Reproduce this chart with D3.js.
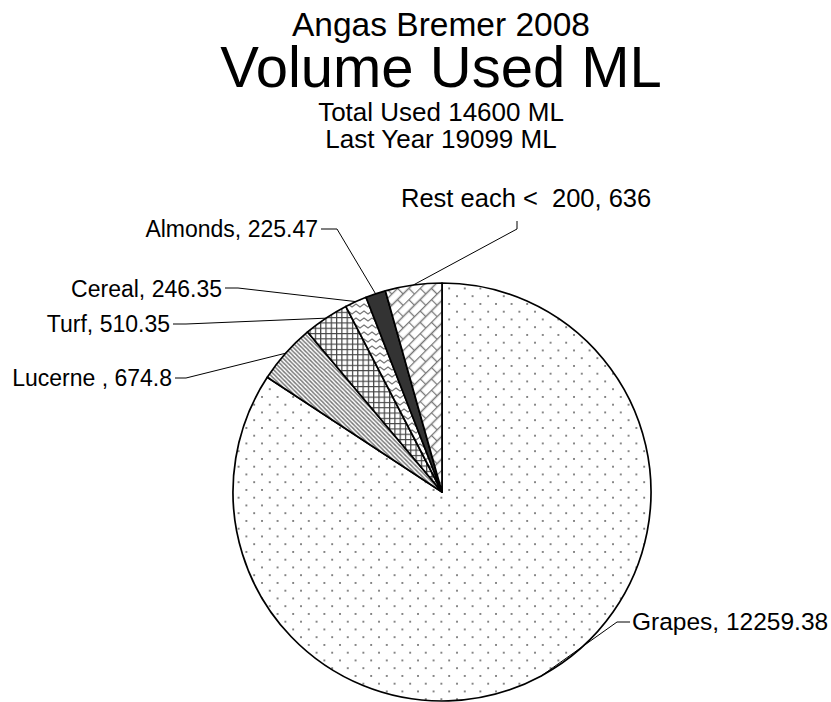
<!DOCTYPE html>
<html>
<head>
<meta charset="utf-8">
<script src="https://cdn.jsdelivr.net/npm/d3@7"></script>
<style>
  html, body { margin: 0; padding: 0; background: #fff; }
  svg text { font-family: "Liberation Sans", Arial, sans-serif; fill: #000; white-space: pre; }
</style>
</head>
<body>
<svg id="chart" width="831" height="702"></svg>
<script>
// Crop water use, Angas Bremer 2008 (ML)
const categories = ["Grapes", "Lucerne ", "Turf", "Cereal", "Almonds", "Rest each <  200"];
const volumes = [12259.38, 674.8, 510.35, 246.35, 225.47, 636];
const valueLabels = ["12259.38", "674.8", "510.35", "246.35", "225.47", "636"];
const titleLines = ["Angas Bremer 2008", "Volume Used ML", "Total Used 14600 ML", "Last Year 19099 ML"];

// Label placement (text anchor point, font size and leader stub)
const labelLayout = [
  { x: 632, y: 630, size: 24.5, anchor: "start", stub: [[630, 622], [617, 622]] },
  { x: 172, y: 386, size: 23, anchor: "end",   stub: [[175, 378], [186, 378]] },
  { x: 170, y: 331.5, size: 23, anchor: "end", stub: [[173, 324], [186, 324]] },
  { x: 222, y: 296.5, size: 23, anchor: "end", stub: [[225, 288], [238, 288]] },
  { x: 318, y: 237, size: 23, anchor: "end",   stub: [[321, 229], [337, 229]] },
  { x: 401, y: 206.5, size: 25.5, anchor: "start", stub: [[517, 221], [517, 229]] }
];

const svg = d3.select("#chart");
const defs = svg.append("defs");

// Fill patterns
const pDots = defs.append("pattern").attr("id", "pDots").attr("patternUnits", "userSpaceOnUse")
  .attr("width", 15.6).attr("height", 15.5).attr("x", 442).attr("y", 492);
pDots.append("rect").attr("width", 15.6).attr("height", 15.5).attr("fill", "#fff");
pDots.append("circle").attr("cx", 2).attr("cy", 2).attr("r", 0.95).attr("fill", "#555");
pDots.append("circle").attr("cx", 9.8).attr("cy", 9.75).attr("r", 0.95).attr("fill", "#555");

const pStripe = defs.append("pattern").attr("id", "pStripe").attr("patternUnits", "userSpaceOnUse")
  .attr("width", 4.2).attr("height", 4.2);
pStripe.append("rect").attr("width", 4.2).attr("height", 4.2).attr("fill", "#fff");
pStripe.append("path").attr("d", "M-1,-1 L5.2,5.2 M-1,3.2 L1,5.2 M3.2,-1 L5.2,1")
  .attr("stroke", "#777").attr("stroke-width", 1.4);

const pGrid = defs.append("pattern").attr("id", "pGrid").attr("patternUnits", "userSpaceOnUse")
  .attr("width", 5.3).attr("height", 5.3);
pGrid.append("rect").attr("width", 5.3).attr("height", 5.3).attr("fill", "#fff");
pGrid.append("path").attr("d", "M0,0.6 H5.3 M0.6,0 V5.3")
  .attr("stroke", "#444").attr("stroke-width", 1.2);

const pWave = defs.append("pattern").attr("id", "pWave").attr("patternUnits", "userSpaceOnUse")
  .attr("width", 8).attr("height", 7);
pWave.append("rect").attr("width", 8).attr("height", 7).attr("fill", "#fff");
pWave.append("path").attr("d", "M-2,4 L2,1 L6,4 L10,1")
  .attr("fill", "none").attr("stroke", "#777").attr("stroke-width", 1.3);

const pBrick = defs.append("pattern").attr("id", "pBrick").attr("patternUnits", "userSpaceOnUse")
  .attr("width", 16).attr("height", 16).attr("patternTransform", "rotate(-45)");
pBrick.append("rect").attr("width", 16).attr("height", 16).attr("fill", "#fff");
pBrick.append("path").attr("d", "M0,0.5 H16 M0,8.5 H16 M0.5,0 V8.5 M8.5,8.5 V16")
  .attr("fill", "none").attr("stroke", "#777").attr("stroke-width", 1.3);

const fills = ["url(#pDots)", "url(#pStripe)", "url(#pGrid)", "url(#pWave)", "#333", "url(#pBrick)"];

// Titles
const titleSizes = [33.5, 58, 26, 26];
const titleBase = [36, 87, 121, 148];
svg.append("g").selectAll("text").data(titleLines).join("text")
  .attr("x", 441).attr("y", (d, i) => titleBase[i])
  .attr("text-anchor", "middle")
  .attr("font-size", (d, i) => titleSizes[i])
  .text(d => d);

// Pie
const cx = 442, cy = 492, radius = 209;
const pie = d3.pie().sort(null).value(d => d.v);
const data = categories.map((c, i) => ({ c, v: volumes[i], i }));
const arcs = pie(data);
const arc = d3.arc().innerRadius(0).outerRadius(radius);

const g = svg.append("g").attr("transform", `translate(${cx},${cy})`);
g.selectAll("path").data(arcs).join("path")
  .attr("d", arc)
  .attr("fill", d => fills[d.data.i])
  .attr("stroke", "#000").attr("stroke-width", 1.7).attr("stroke-linejoin", "round");

// Leader lines to mid-arc
const leaders = svg.append("g");
arcs.forEach((a, i) => {
  const mid = (a.startAngle + a.endAngle) / 2;
  const px = cx + radius * Math.sin(mid);
  const py = cy - radius * Math.cos(mid);
  const pts = labelLayout[i].stub.concat([[px, py]]);
  leaders.append("path")
    .attr("d", d3.line()(pts))
    .attr("fill", "none").attr("stroke", "#000").attr("stroke-width", 1);
});

// Labels
svg.append("g").selectAll("text").data(arcs).join("text")
  .attr("x", (d, i) => labelLayout[i].x)
  .attr("y", (d, i) => labelLayout[i].y)
  .attr("text-anchor", (d, i) => labelLayout[i].anchor)
  .attr("font-size", (d, i) => labelLayout[i].size)
  .text(d => `${d.data.c}, ${valueLabels[d.data.i]}`);
</script>
</body>
</html>
